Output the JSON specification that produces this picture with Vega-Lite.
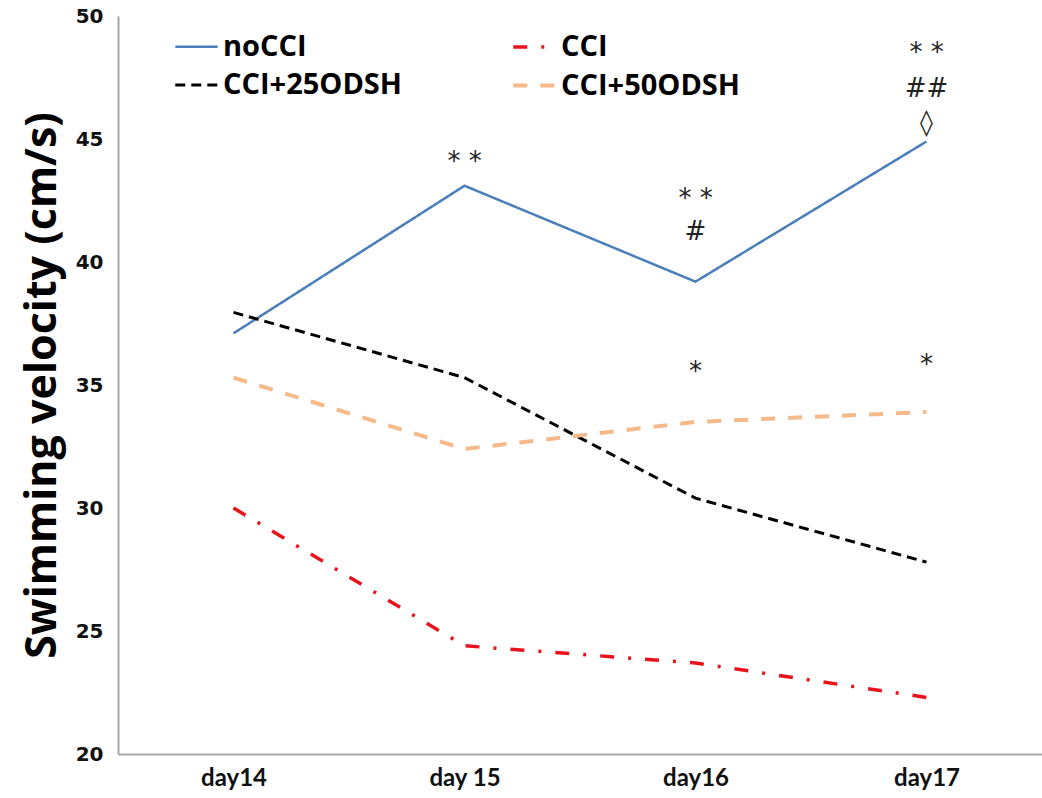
{
  "$schema": "https://vega.github.io/schema/vega-lite/v6.json",
  "width": 924,
  "height": 738,
  "autosize": {"type": "none"},
  "padding": {"left": 118, "top": 16, "right": 0, "bottom": 44},
  "background": "white",
  "config": {"view": {"stroke": null}},
  "datasets": {
    "lines": [
      {"day": "day14", "series": "noCCI", "v": 37.1},
      {"day": "day 15", "series": "noCCI", "v": 43.1},
      {"day": "day16", "series": "noCCI", "v": 39.2},
      {"day": "day17", "series": "noCCI", "v": 44.9},
      {"day": "day14", "series": "CCI", "v": 30.0},
      {"day": "day 15", "series": "CCI", "v": 24.4},
      {"day": "day16", "series": "CCI", "v": 23.7},
      {"day": "day17", "series": "CCI", "v": 22.3},
      {"day": "day14", "series": "CCI+25ODSH", "v": 37.95},
      {"day": "day 15", "series": "CCI+25ODSH", "v": 35.3},
      {"day": "day16", "series": "CCI+25ODSH", "v": 30.4},
      {"day": "day17", "series": "CCI+25ODSH", "v": 27.8},
      {"day": "day14", "series": "CCI+50ODSH", "v": 35.3},
      {"day": "day 15", "series": "CCI+50ODSH", "v": 32.4},
      {"day": "day16", "series": "CCI+50ODSH", "v": 33.5},
      {"day": "day17", "series": "CCI+50ODSH", "v": 33.9}
    ],
    "notes": [
      {"day": "day 15", "label": "* *", "v": 44.07},
      {"day": "day16", "label": "* *", "v": 42.55},
      {"day": "day16", "label": "#", "v": 41.2},
      {"day": "day16", "label": "*", "v": 35.53},
      {"day": "day17", "label": "* *", "v": 48.5},
      {"day": "day17", "label": "##", "v": 47.05},
      {"day": "day17", "label": "◊", "v": 45.65},
      {"day": "day17", "label": "*", "v": 35.8}
    ]
  },
  "layer": [
    {
      "data": {"name": "lines"},
      "mark": {"type": "line", "strokeCap": "butt"},
      "encoding": {
        "x": {
          "field": "day", "type": "ordinal", "sort": ["day14", "day 15", "day16", "day17"],
          "scale": {"type": "point", "padding": 0.5},
          "axis": {
            "title": null, "labelAngle": 0, "ticks": false, "domainColor": "#a6a6a6", "domainWidth": 2,
            "labelFont": "Lato", "labelFontWeight": "bold", "labelFontSize": 24, "labelColor": "#111111", "labelPadding": 12
          }
        },
        "y": {
          "field": "v", "type": "quantitative",
          "scale": {"domain": [20, 50], "nice": false, "zero": false},
          "axis": {
            "title": "Swimming velocity (cm/s)", "values": [20, 25, 30, 35, 40, 45, 50], "grid": false, "ticks": false,
            "domainColor": "#a6a6a6", "domainWidth": 2,
            "labelFont": "DejaVu Sans", "labelFontWeight": "bold", "labelFontSize": 20, "labelColor": "#111111", "labelPadding": 15,
            "titleFont": "Open Sans", "titleFontWeight": "bold", "titleFontSize": 43, "titleColor": "#000000", "titlePadding": 11
          }
        },
        "color": {
          "field": "series", "type": "nominal",
          "scale": {"domain": ["noCCI", "CCI+25ODSH", "CCI", "CCI+50ODSH"], "range": ["#4a7ebb", "#000000", "#e8131b", "#f6b98a"]},
          "legend": {
            "title": null, "orient": "none", "legendX": 55, "legendY": 8, "columns": 2, "columnPadding": 102, "rowPadding": 0,
            "padding": 0, "symbolType": "stroke", "symbolSize": 1800, "labelOffset": 3, "labelLimit": 400,
            "labelFont": "Open Sans", "labelFontWeight": "bold", "labelFontSize": 29, "labelColor": "#000000"
          }
        },
        "strokeDash": {
          "field": "series", "type": "nominal",
          "scale": {"domain": ["noCCI", "CCI+25ODSH", "CCI", "CCI+50ODSH"], "range": [[1, 0], [10, 6], [14, 14, 3, 14], [14, 13]]},
          "legend": null
        },
        "strokeWidth": {
          "field": "series", "type": "nominal",
          "scale": {"domain": ["noCCI", "CCI+25ODSH", "CCI", "CCI+50ODSH"], "range": [2.5, 4, 3, 5]},
          "legend": null
        }
      }
    },
    {
      "data": {"name": "notes"},
      "mark": {"type": "text", "font": "DejaVu Sans", "fontSize": 26, "color": "#222222", "baseline": "middle", "align": "center"},
      "encoding": {
        "x": {"field": "day", "type": "ordinal", "sort": ["day14", "day 15", "day16", "day17"]},
        "y": {"field": "v", "type": "quantitative"},
        "text": {"field": "label"}
      }
    }
  ]
}
